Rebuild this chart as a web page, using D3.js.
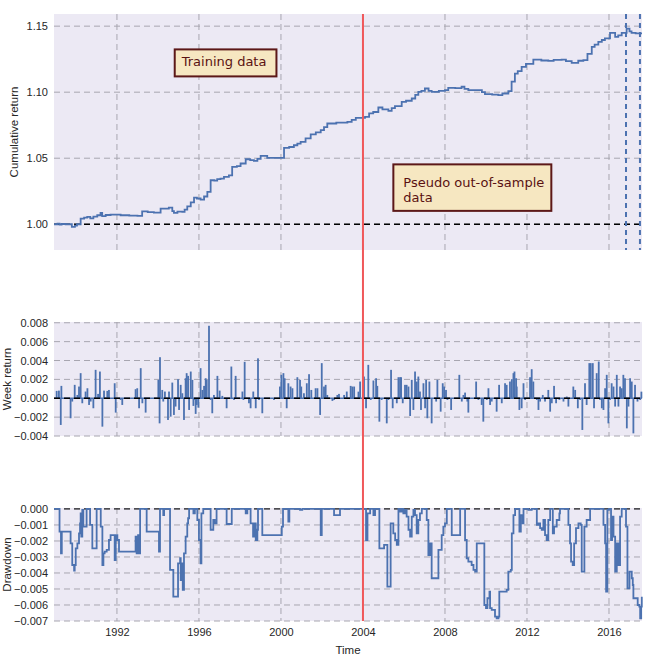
<!DOCTYPE html>
<html><head><meta charset="utf-8">
<script src="https://cdn.jsdelivr.net/npm/d3@7"></script>
<style>body{margin:0;background:#fff}svg{display:block}</style>
</head><body>
<script>
// ---------------- DATA ----------------
const xTickYears = [1992, 1996, 2000, 2004, 2008, 2012, 2016];
const cumTicks = [1.00, 1.05, 1.10, 1.15];
const weekTicks = [-0.004, -0.002, 0, 0.002, 0.004, 0.006, 0.008];
const ddTicks = [-0.007, -0.006, -0.005, -0.004, -0.003, -0.002, -0.001, 0];
const splitYear = 2004.0;
const markerYears = [2016.83, 2017.51];
const annoTexts = [["Training data"], ["Pseudo out-of-sample", "data"]];
const annoYears = [1995.16, 2005.97];
const annoValues = [1.1199, 1.0283];

// cumulative return [year, value]
const cumReturn = [
[1988.93,1.0000],[1989.1,1.0005],[1989.2,0.9998],[1989.3,1.0002],[1989.5,1.0000],[1989.8,0.9980],[1989.95,0.9990],[1990.05,1.0000],
[1990.23,1.0043],[1990.4,1.0050],[1990.55,1.0056],[1990.7,1.0045],[1990.85,1.0058],[1991.04,1.0068],[1991.2,1.0086],[1991.28,1.0061],
[1991.45,1.0070],[1991.69,1.0073],[1992.18,1.0068],[1992.6,1.0065],[1993.0,1.0063],[1993.23,1.0098],[1993.5,1.0092],[1993.8,1.0088],
[1994.13,1.0119],[1994.53,1.0126],[1994.7,1.0100],[1994.78,1.0086],[1994.95,1.0096],[1995.19,1.0093],[1995.3,1.0110],[1995.43,1.0136],
[1995.6,1.0165],[1995.76,1.0202],[1995.9,1.0195],[1996.08,1.0187],[1996.25,1.0210],[1996.41,1.0245],[1996.57,1.0333],[1996.75,1.0330],
[1996.89,1.0341],[1997.05,1.0345],[1997.22,1.0359],[1997.46,1.0370],[1997.62,1.0434],[1997.85,1.0440],[1998.03,1.0460],[1998.28,1.0492],
[1998.5,1.0485],[1998.68,1.0480],[1998.85,1.0495],[1999.01,1.0518],[1999.33,1.0503],[1999.98,1.0503],[2000.15,1.0578],[2000.4,1.0585],
[2000.63,1.0598],[2000.8,1.0610],[2000.96,1.0624],[2001.2,1.0650],[2001.45,1.0680],[2001.7,1.0695],[2001.94,1.0712],[2002.1,1.0735],
[2002.26,1.0763],[2002.7,1.0770],[2003.24,1.0775],[2003.45,1.0790],[2003.65,1.0805],[2004.1,1.0813],[2004.3,1.0840],[2004.5,1.0850],
[2004.75,1.0884],[2004.95,1.0870],[2005.24,1.0858],[2005.4,1.0880],[2005.56,1.0894],[2005.89,1.0927],[2006.1,1.0935],[2006.38,1.0952],
[2006.55,1.0980],[2006.7,1.1003],[2006.85,1.1010],[2007.02,1.1028],[2007.2,1.1010],[2007.35,1.1003],[2007.7,1.1010],[2008.0,1.1015],
[2008.16,1.1033],[2008.5,1.1030],[2008.81,1.1041],[2008.95,1.1025],[2009.14,1.1015],[2009.63,1.1015],[2009.8,1.1000],[2009.95,1.0985],
[2010.3,1.0982],[2010.6,1.0977],[2010.8,1.0990],[2011.09,1.1008],[2011.25,1.1080],[2011.41,1.1141],[2011.55,1.1160],[2011.74,1.1192],
[2011.95,1.1215],[2012.31,1.1247],[2012.7,1.1240],[2013.04,1.1237],[2013.3,1.1245],[2013.69,1.1247],[2013.9,1.1235],[2014.18,1.1222],
[2014.5,1.1238],[2014.75,1.1242],[2014.95,1.1290],[2015.16,1.1343],[2015.3,1.1360],[2015.48,1.1381],[2015.65,1.1395],[2015.8,1.1407],
[2016.05,1.1449],[2016.3,1.1419],[2016.45,1.1430],[2016.62,1.1449],[2016.86,1.1482],[2017.0,1.1460],[2017.1,1.1449],[2017.3,1.1445],
[2017.6,1.1439]];

// weekly returns (non-zero weeks) [year, value]
const weekReturn = [
[1989.06,0.00078],[1989.17,0.00081],[1989.26,-0.00283],[1989.29,0.00131],[1989.74,-0.00212],[1989.82,-0.00035],[1989.94,0.00142],
[1990.07,0.00035],[1990.15,0.00124],[1990.23,0.00266],[1990.31,-0.00053],[1990.47,0.00071],[1990.56,0.00106],[1990.64,-0.00071],
[1990.72,-0.00035],[1990.85,-0.00106],[1990.96,0.00301],[1991.08,0.00046],[1991.17,0.00283],[1991.29,-0.00301],[1991.37,0.00081],
[1991.53,0.00078],[1991.61,0.00088],[1991.89,0.00159],[1991.94,-0.00152],[1992.18,-0.00018],[1992.26,-0.00071],[1992.91,0.00096],
[1992.99,0.00106],[1993.08,-0.00106],[1993.16,0.00319],[1993.24,-0.00053],[1993.40,-0.00152],[1994.02,0.00195],[1994.08,-0.00266],
[1994.10,0.00435],[1994.21,0.00088],[1994.26,-0.00035],[1994.34,0.00071],[1994.49,-0.00230],[1994.54,0.00071],[1994.62,-0.00195],
[1994.70,0.00166],[1994.78,-0.00177],[1994.86,-0.00088],[1994.98,0.00202],[1995.03,-0.00124],[1995.11,0.00142],[1995.19,0.00053],
[1995.27,-0.00230],[1995.35,0.00212],[1995.40,0.00266],[1995.47,0.00237],[1995.52,-0.00124],[1995.60,0.00283],[1995.68,0.00195],
[1995.73,-0.00081],[1995.79,-0.00018],[1995.84,-0.00166],[1995.89,-0.00071],[1995.97,-0.00099],[1996.08,0.00319],[1996.17,0.00088],
[1996.25,0.00131],[1996.33,0.00212],[1996.38,0.00195],[1996.49,0.00768],[1996.57,-0.00018],[1996.65,-0.00159],[1996.73,0.00035],
[1996.90,0.00237],[1997.01,0.00081],[1997.14,0.00025],[1997.35,-0.00106],[1997.58,0.00336],[1997.71,-0.00018],[1997.79,0.00237],
[1998.12,0.00071],[1998.17,-0.00018],[1998.23,0.00386],[1998.44,-0.00053],[1998.52,-0.00106],[1998.65,0.00071],[1998.77,-0.00106],
[1998.88,0.00423],[1998.93,-0.00018],[1999.09,-0.00159],[1999.66,-0.00018],[1999.95,0.00124],[2000.02,0.00248],[2000.12,0.00266],
[2000.18,0.00212],[2000.28,-0.00106],[2000.36,0.00159],[2000.47,0.00124],[2000.56,0.00106],[2000.80,0.00223],[2000.93,0.00195],
[2000.99,0.00124],[2001.12,0.00053],[2001.26,0.00159],[2001.37,0.00255],[2001.48,0.00088],[2001.69,0.00106],[2001.78,0.00106],
[2001.91,-0.00177],[2001.99,0.00372],[2002.10,0.00124],[2002.18,0.00142],[2002.26,0.00035],[2002.51,-0.00028],[2002.59,-0.00018],
[2002.75,0.00035],[2002.83,0.00046],[2003.08,0.00035],[2003.21,0.00071],[2003.40,0.00131],[2003.48,0.00124],[2003.57,0.00124],
[2003.78,0.00070],[2003.86,0.00177],[2004.05,0.00230],[2004.15,-0.00106],[2004.26,0.00354],[2004.38,-0.00018],[2004.51,0.00188],
[2004.64,0.00212],[2004.70,0.00131],[2004.80,-0.00248],[2004.91,-0.00018],[2005.16,-0.00266],[2005.24,-0.00018],[2005.37,0.00301],
[2005.45,-0.00106],[2005.65,-0.00053],[2005.73,0.00223],[2005.81,0.00223],[2005.86,0.00223],[2005.94,-0.00053],[2006.05,0.00142],
[2006.13,0.00142],[2006.22,0.00124],[2006.30,-0.00188],[2006.38,0.00195],[2006.46,-0.00124],[2006.54,0.00283],[2006.62,0.00177],
[2006.70,0.00230],[2006.78,0.00071],[2006.83,-0.00124],[2006.95,0.00159],[2007.03,-0.00106],[2007.08,0.00195],[2007.14,-0.00212],
[2007.24,0.00177],[2007.35,-0.00266],[2007.57,-0.00035],[2007.63,0.00195],[2007.79,-0.00142],[2007.89,0.00159],[2007.96,0.00124],
[2008.05,0.00088],[2008.12,-0.00018],[2008.30,-0.00124],[2008.70,0.00248],[2008.82,-0.00035],[2008.90,0.00035],[2008.98,0.00060],
[2009.09,-0.00035],[2009.14,-0.00152],[2009.52,0.00177],[2009.63,-0.00018],[2009.79,-0.00071],[2009.87,-0.00248],[2010.04,-0.00018],
[2010.12,0.00106],[2010.20,-0.00071],[2010.28,-0.00035],[2010.52,-0.00142],[2010.64,0.00142],[2010.77,-0.00053],[2010.93,0.00159],
[2011.01,0.00142],[2011.17,0.00177],[2011.26,0.00202],[2011.34,0.00266],[2011.39,0.00283],[2011.47,0.00212],[2011.50,0.00124],
[2011.63,-0.00124],[2011.74,-0.00106],[2011.83,0.00159],[2011.91,-0.00018],[2012.15,0.00223],[2012.23,0.00308],[2012.31,0.00177],
[2012.48,-0.00018],[2012.56,-0.00124],[2012.64,-0.00035],[2012.77,0.00035],[2012.88,-0.00035],[2013.04,0.00088],[2013.13,-0.00142],
[2013.21,-0.00053],[2013.32,0.00131],[2013.42,-0.00053],[2013.58,-0.00018],[2013.78,-0.00035],[2013.94,0.00018],[2014.02,-0.00088],
[2014.26,0.00124],[2014.35,0.00088],[2014.48,-0.00106],[2014.59,-0.00018],[2014.70,-0.00336],[2014.83,0.00159],[2014.91,-0.00071],
[2015.04,0.00372],[2015.11,0.00372],[2015.21,0.00372],[2015.27,-0.00106],[2015.40,0.00266],[2015.50,0.00389],[2015.56,-0.00018],
[2015.65,-0.00106],[2015.73,-0.00124],[2015.81,0.00106],[2015.89,0.00248],[2015.97,-0.00266],[2016.05,-0.00018],[2016.13,0.00159],
[2016.22,0.00124],[2016.30,-0.00088],[2016.38,0.00248],[2016.46,-0.00088],[2016.54,0.00124],[2016.62,0.00106],[2016.70,0.00248],
[2016.78,0.00212],[2016.87,-0.00319],[2016.95,-0.00088],[2017.03,0.00212],[2017.11,0.00177],[2017.19,-0.00372],[2017.27,0.00142],
[2017.39,-0.00035],[2017.52,-0.00018],[2017.58,0.00070]];

// drawdown (step levels) [year, value]
const drawdown = [
[1988.93,0],[1989.20,-0.00142],[1989.27,-0.00277],[1989.31,-0.00142],[1989.74,-0.00215],[1989.82,-0.00350],[1989.91,-0.00385],
[1989.94,-0.00350],[1989.99,-0.00246],[1990.07,-0.00215],[1990.15,-0.00152],[1990.20,-0.00090],[1990.23,-0.00027],[1990.26,-0.00173],
[1990.31,-0.00006],[1990.36,-0.00110],[1990.52,0],[1990.69,-0.00100],[1990.80,-0.00246],[1991.01,0],[1991.21,-0.00110],[1991.29,-0.00350],
[1991.34,-0.00277],[1991.40,-0.00267],[1991.50,-0.00256],[1991.61,-0.00194],[1991.69,-0.00163],[1991.89,-0.00319],[1991.94,-0.00163],
[1992.02,-0.00194],[1992.10,-0.00267],[1992.91,-0.00173],[1992.96,-0.00277],[1993.03,-0.00163],[1993.08,-0.00277],[1993.13,0],
[1993.45,-0.00142],[1994.05,-0.00267],[1994.10,0],[1994.26,-0.00038],[1994.30,0],[1994.59,-0.00381],[1994.75,-0.00548],[1994.98,-0.00340],
[1995.08,-0.00308],[1995.11,-0.00444],[1995.16,-0.00340],[1995.21,-0.00506],[1995.27,-0.00277],[1995.35,-0.00173],[1995.43,-0.00090],
[1995.47,-0.00058],[1995.52,0],[1995.73,-0.00027],[1995.80,0],[1995.92,-0.00069],[1996.00,-0.00194],[1996.08,-0.00340],[1996.12,-0.00027],
[1996.21,0],[1996.57,-0.00130],[1996.70,-0.00069],[1996.77,-0.00090],[1996.86,0],[1997.35,-0.00094],[1997.60,0],[1998.28,-0.00027],
[1998.36,0],[1998.52,-0.00090],[1998.64,-0.00173],[1998.69,-0.00090],[1998.77,-0.00194],[1998.85,-0.00130],[1998.88,0],[1999.09,-0.00163],
[2000.04,-0.00110],[2000.10,0],[2000.36,-0.00079],[2000.41,0],[2000.93,-0.00006],[2001.04,0],[2001.94,-0.00163],[2001.99,0],
[2002.59,-0.00038],[2002.88,0],
[2004.15,-0.00194],[2004.22,-0.00027],[2004.35,0],[2004.51,-0.00038],[2004.59,0],[2004.80,-0.00246],[2005.03,-0.00225],[2005.19,-0.00485],
[2005.35,-0.00090],[2005.48,-0.00152],[2005.57,-0.00194],[2005.65,-0.00225],[2005.73,0],[2005.81,-0.00017],[2005.89,0],[2005.97,-0.00027],
[2006.05,-0.00006],[2006.13,-0.00048],[2006.22,-0.00130],[2006.30,-0.00173],[2006.38,-0.00048],[2006.46,-0.00006],[2006.54,-0.00038],
[2006.62,-0.00152],[2006.70,-0.00069],[2006.78,-0.00027],[2006.87,0],[2007.11,-0.00069],[2007.19,-0.00288],[2007.27,-0.00215],
[2007.35,-0.00433],[2007.68,-0.00256],[2007.84,-0.00163],[2007.92,-0.00110],[2008.00,-0.00090],[2008.09,0],[2008.33,-0.00163],[2008.74,0],
[2008.98,-0.00194],[2009.06,-0.00308],[2009.14,-0.00329],[2009.30,-0.00350],[2009.39,-0.00381],[2009.47,-0.00392],[2009.55,-0.00215],
[2009.92,-0.00600],[2010.00,-0.00620],[2010.07,-0.00558],[2010.17,-0.00517],[2010.20,-0.00620],[2010.28,-0.00631],[2010.44,-0.00673],
[2010.52,-0.00683],[2010.61,-0.00673],[2010.65,-0.00517],[2011.01,-0.00506],[2011.09,-0.00392],[2011.21,-0.00381],[2011.26,-0.00152],
[2011.34,-0.00038],[2011.42,0],[2011.63,-0.00142],[2011.70,-0.00038],[2011.79,-0.00090],[2011.83,0],[2012.07,-0.00006],[2012.23,0],
[2012.48,-0.00100],[2012.56,-0.00090],[2012.64,-0.00120],[2012.72,-0.00130],[2012.80,-0.00069],[2012.88,-0.00163],[2012.96,-0.00194],
[2013.04,-0.00069],[2013.13,0],[2013.26,-0.00152],[2013.32,-0.00110],[2013.45,-0.00069],[2013.58,-0.00027],[2013.61,0],[2014.02,-0.00100],
[2014.10,-0.00215],[2014.15,-0.00329],[2014.23,-0.00350],[2014.30,-0.00215],[2014.39,-0.00120],[2014.51,-0.00090],[2014.62,-0.00100],
[2014.67,-0.00392],[2014.80,-0.00110],[2014.91,-0.00069],[2015.08,0],[2015.73,-0.00100],[2015.81,-0.00215],[2015.86,-0.00517],
[2015.92,-0.00006],[2016.00,0],[2016.10,-0.00194],[2016.15,-0.00048],[2016.22,-0.00173],[2016.30,-0.00392],[2016.38,-0.00215],
[2016.46,-0.00350],[2016.54,-0.00048],[2016.62,0],[2016.83,-0.00110],[2016.90,-0.00496],[2017.00,-0.00392],[2017.11,-0.00433],
[2017.16,-0.00475],[2017.19,-0.00558],[2017.40,-0.00600],[2017.48,-0.00610],[2017.52,-0.00683],[2017.57,-0.00610],[2017.60,-0.00548]];

// ---------------- CHART ----------------
const W = 657, H = 658;
const L = 54, R = 642;
const svg = d3.select("body").append("svg").attr("width", W).attr("height", H)
  .style("font-family", "'Liberation Sans', Arial, sans-serif");

const x = d3.scaleLinear().domain([1988.93, 2017.61]).range([L, R]);
const panels = [
  {top: 14, bottom: 250, domain: [0.9805, 1.1592], ticks: cumTicks, fmt: d3.format(".2f"), label: "Cumulative return", labelX: 14},
  {top: 322, bottom: 436, domain: [-0.004, 0.00808], ticks: weekTicks, fmt: d3.format(".3f"), label: "Week return", labelX: 7},
  {top: 508, bottom: 621, domain: [-0.007, 0.00006], ticks: ddTicks, fmt: d3.format(".3f"), label: "Drawdown", labelX: 7}
];
const blue = "#4C72B0";
const gridCol = "#a8a6b0";
const textCol = "#262626";
const bg = "#ECE9F4";

panels.forEach((p, i) => {
  p.y = d3.scaleLinear().domain(p.domain).range([p.bottom, p.top]);
  const g = svg.append("g");
  g.append("rect").attr("x", L).attr("y", p.top).attr("width", R - L).attr("height", p.bottom - p.top).attr("fill", bg);
  g.selectAll(".hg").data(p.ticks).join("line")
    .attr("x1", L).attr("x2", R).attr("y1", d => p.y(d)).attr("y2", d => p.y(d))
    .attr("stroke", gridCol).attr("stroke-width", 1).attr("stroke-dasharray", "6,4");
  g.selectAll(".vg").data(xTickYears).join("line")
    .attr("x1", d => x(d)).attr("x2", d => x(d)).attr("y1", p.top).attr("y2", p.bottom)
    .attr("stroke", gridCol).attr("stroke-width", 1).attr("stroke-dasharray", "6,4");
  const ax = d3.axisLeft(p.y).tickValues(p.ticks).tickFormat(p.fmt).tickSize(0).tickPadding(6);
  const axg = g.append("g").attr("transform", `translate(${L},0)`).call(ax);
  axg.select(".domain").remove();
  axg.selectAll("text").attr("fill", textCol).style("font-size", "11px").style("font-family", "'Liberation Sans', Arial, sans-serif");
  g.append("text").attr("transform", `translate(${p.labelX},${(p.top + p.bottom) / 2}) rotate(-90)`)
    .attr("text-anchor", "middle").attr("dy", "0.35em").attr("fill", textCol).style("font-size", "11.5px").text(p.label);
  p.g = g;
});

// bottom x axis
const xa = d3.axisBottom(x).tickValues(xTickYears).tickFormat(d3.format("d")).tickSize(0).tickPadding(7);
const xg = svg.append("g").attr("transform", `translate(0,${panels[2].bottom})`).call(xa);
xg.select(".domain").remove();
xg.selectAll("text").attr("fill", textCol).style("font-size", "11px").style("font-family", "'Liberation Sans', Arial, sans-serif");
svg.append("text").attr("x", (L + R) / 2).attr("y", 654).attr("text-anchor", "middle")
  .attr("fill", textCol).style("font-size", "11.5px").text("Time");

// Panel 1: cumulative return
const p1 = panels[0];
svg.append("clipPath").attr("id", "c1").append("rect").attr("x", L).attr("y", p1.top).attr("width", R - L).attr("height", p1.bottom - p1.top);
p1.g.append("line").attr("x1", L).attr("x2", R).attr("y1", p1.y(1)).attr("y2", p1.y(1))
  .attr("stroke", "#000").attr("stroke-width", 1.6).attr("stroke-dasharray", "6,4");
p1.g.append("path").datum(cumReturn)
  .attr("d", d3.line().x(d => x(d[0])).y(d => p1.y(d[1])).curve(d3.curveStepAfter))
  .attr("fill", "none").attr("stroke", blue).attr("stroke-width", 1.8).attr("clip-path", "url(#c1)");
p1.g.selectAll(".mk").data(markerYears).join("line")
  .attr("x1", d => x(d)).attr("x2", d => x(d)).attr("y1", p1.top).attr("y2", p1.bottom)
  .attr("stroke", blue).attr("stroke-width", 2).attr("stroke-dasharray", "5,4");

// Panel 2: week return
const p2 = panels[1];
p2.g.append("line").attr("x1", x(cumReturn[0][0])).attr("x2", x(cumReturn[cumReturn.length - 1][0]))
  .attr("y1", p2.y(0)).attr("y2", p2.y(0)).attr("stroke", blue).attr("stroke-width", 1.6);
p2.g.selectAll(".sp").data(weekReturn).join("rect")
  .attr("x", d => x(d[0]) - 0.9).attr("width", 1.8)
  .attr("y", d => p2.y(Math.max(d[1], 0))).attr("height", d => Math.abs(p2.y(d[1]) - p2.y(0)))
  .attr("fill", blue);
p2.g.append("line").attr("x1", L).attr("x2", R).attr("y1", p2.y(0)).attr("y2", p2.y(0))
  .attr("stroke", "#000").attr("stroke-width", 1.6).attr("stroke-dasharray", "6,4");

// Panel 3: drawdown
const p3 = panels[2];
p3.g.append("line").attr("x1", L).attr("x2", R).attr("y1", p3.y(0)).attr("y2", p3.y(0))
  .attr("stroke", "#000").attr("stroke-width", 1.2).attr("stroke-dasharray", "6,4").attr("opacity", 0.8);
p3.g.append("path").datum(drawdown)
  .attr("d", d3.line().x(d => x(d[0])).y(d => p3.y(d[1])).curve(d3.curveStepAfter))
  .attr("fill", "none").attr("stroke", blue).attr("stroke-width", 1.8);

// split line
svg.append("line").attr("x1", x(splitYear)).attr("x2", x(splitYear)).attr("y1", p1.top).attr("y2", p3.bottom)
  .attr("stroke", "#F0585A").attr("stroke-width", 2);

// annotations
const pads = [{l: 7, r: 9, t: 16.5, b: 10.5}, {l: 10, r: 7, t: 22.5, b: 9}];
annoTexts.forEach((lines, i) => {
  const ax0 = x(annoYears[i]), ay0 = p1.y(annoValues[i]);
  const g = svg.append("g");
  const rect = g.append("rect");
  const t = g.append("text").attr("fill", "#5a1212").style("font-family", "'DejaVu Sans', sans-serif").style("font-size", "13px");
  lines.forEach((ln, j) => t.append("tspan").attr("x", ax0).attr("y", ay0 + j * 15).text(ln));
  const bb = t.node().getBBox();
  const pd = pads[i];
  rect.attr("x", ax0 - pd.l).attr("y", ay0 - pd.t).attr("width", bb.width + pd.l + pd.r)
    .attr("height", (lines.length - 1) * 15 + pd.t + pd.b)
    .attr("fill", "#F6E7C1").attr("stroke", "#5C1818").attr("stroke-width", 2);
});
</script>
</body></html>
